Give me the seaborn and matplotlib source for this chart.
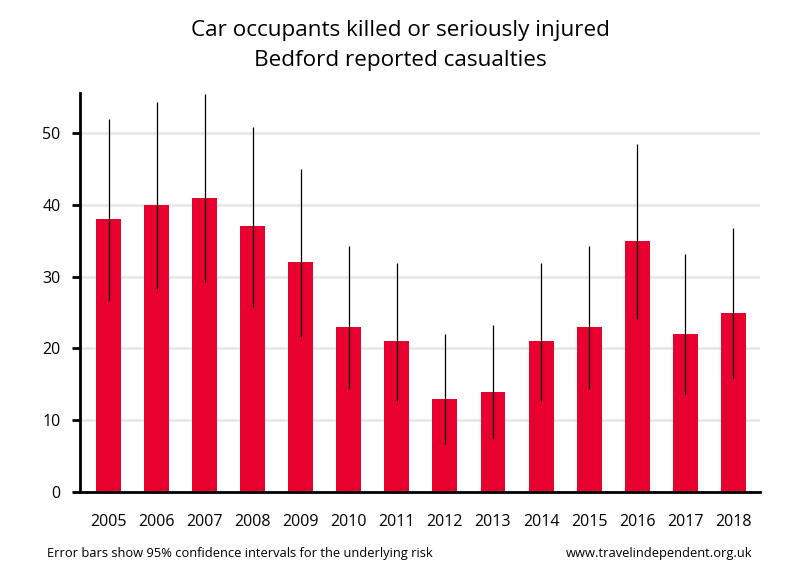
import numpy as np
import pandas as pd
import matplotlib
matplotlib.use('Agg')
import matplotlib.pyplot as plt
import seaborn as sns

# data
years = ['2005', '2006', '2007', '2008', '2009', '2010', '2011',
         '2012', '2013', '2014', '2015', '2016', '2017', '2018']
casualties = [38, 40, 41, 37, 32, 23, 21, 13, 14, 21, 23, 35, 22, 25]
ci_low = [26.6, 28.3, 29.2, 25.8, 21.6, 14.4, 12.7, 6.7, 7.4, 12.7, 14.4, 24.1, 13.6, 15.9]
ci_high = [52.0, 54.3, 55.4, 50.8, 45.0, 34.3, 31.9, 22.0, 23.3, 31.9, 34.3, 48.5, 33.1, 36.8]

df = pd.DataFrame({'year': years, 'casualties': casualties})

sns.set_style('white')
plt.rcParams['font.family'] = ['Open Sans', 'DejaVu Sans']
plt.rcParams['text.color'] = 'black'
plt.rcParams['xtick.color'] = 'black'
plt.rcParams['ytick.color'] = 'black'

fig = plt.figure(figsize=(8, 5.8), dpi=100)
ax = fig.add_axes([0.1, 0.1517, 0.85, 0.688])

sns.barplot(data=df, x='year', y='casualties', color='#e8002f',
            width=0.52, saturation=1, linewidth=0, ax=ax, zorder=2)

# confidence intervals
x = np.arange(len(years))
vals = np.array(casualties)
yerr = [vals - np.array(ci_low), np.array(ci_high) - vals]
ax.errorbar(x, vals, yerr=yerr, fmt='none', ecolor='black',
            elinewidth=0.9, capsize=0, zorder=3)

ax.set_xlim(-0.6, 13.56)
ax.set_ylim(0, 55.6)
ax.set_yticks([0, 10, 20, 30, 40, 50])
ax.yaxis.grid(True, color='#e6e6e6', linewidth=1.8, zorder=0)
ax.set_axisbelow(True)

for side in ['top', 'right']:
    ax.spines[side].set_visible(False)
for side in ['left', 'bottom']:
    ax.spines[side].set_linewidth(2)
    ax.spines[side].set_color('black')

ax.tick_params(axis='y', which='both', left=True, length=6, width=2,
               labelsize=11.5, pad=8, color='black', labelcolor='black')
ax.tick_params(axis='x', bottom=False, labelsize=11.5, pad=12, labelcolor='black')
ax.set_xlabel('')
ax.set_ylabel('')

fig.text(0.5, 0.948, 'Car occupants killed or seriously injured', ha='center',
         va='center', fontsize=16.2, color='black')
fig.text(0.5, 0.895, 'Bedford reported casualties', ha='center',
         va='center', fontsize=16.2, color='black')

fig.text(0.059, 0.045, 'Error bars show 95% confidence intervals for the underlying risk',
         ha='left', va='center', fontsize=9.3, color='black')
fig.text(0.94, 0.045, 'www.travelindependent.org.uk', ha='right',
         va='center', fontsize=9.3, color='black')

fig.savefig('out.png', dpi=100)
